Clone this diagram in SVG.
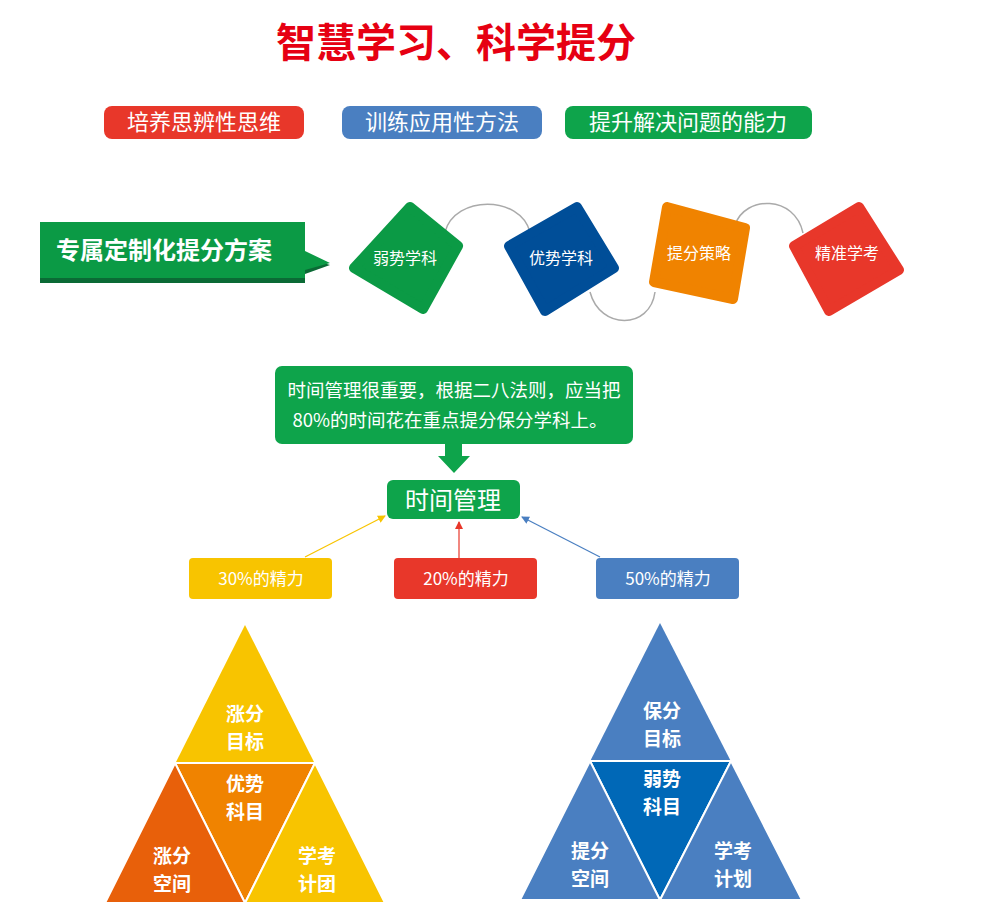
<svg xmlns="http://www.w3.org/2000/svg" width="992" height="918" viewBox="0 0 992 918">
<style>
text{font-family:"Noto Sans CJK SC","Noto Sans",sans-serif;fill:#fff;text-anchor:middle}
.b{font-weight:bold}
.q{stroke-linejoin:round;stroke-width:10}
</style>
<defs>
<marker id="ay" markerWidth="8" markerHeight="8" refX="7" refY="4" orient="auto" markerUnits="userSpaceOnUse"><path d="M0,0L8,4L0,8z" fill="#f8c400"/></marker>
<marker id="ar" markerWidth="8" markerHeight="8" refX="7" refY="4" orient="auto" markerUnits="userSpaceOnUse"><path d="M0,0L8,4L0,8z" fill="#e8372a"/></marker>
<marker id="ab" markerWidth="8" markerHeight="8" refX="7" refY="4" orient="auto" markerUnits="userSpaceOnUse"><path d="M0,0L8,4L0,8z" fill="#4a7fc1"/></marker>
</defs>
<rect width="992" height="918" fill="#fff"/>
<text x="456" y="57" class="b" font-size="40" style="fill:#e60012">智慧学习、科学提分</text>
<g id="tags">
<rect x="104" y="106" width="200" height="33" rx="8" fill="#e8372a"/><text x="204" y="130" font-size="22">培养思辨性思维</text>
<rect x="342" y="106" width="200" height="33" rx="8" fill="#4a7fc1"/><text x="442" y="130" font-size="22">训练应用性方法</text>
<rect x="565" y="106" width="247" height="33" rx="8" fill="#0ea44b"/><text x="688" y="130" font-size="22">提升解决问题的能力</text>
</g>
<g id="plan-label">
<path d="M40,228H305V257L330,265L305,274V283H40Z" fill="#0b6a35"/>
<path d="M40,222H305V251L330,263L305,270V278H40Z" fill="#0b9a45"/>
<text x="164" y="259" class="b" font-size="24">专属定制化提分方案</text>
</g>
<g id="arcs" fill="none" stroke="#aaa" stroke-width="1.5">
<path d="M445,232C455,195 520,195 530,232"/>
<path d="M590,292C600,330 650,330 655,292"/>
<path d="M735,225C745,195 795,195 803,233"/>
</g>
<g id="s1"><path class="q" d="M410,207L458,246L423,309L354,268Z" fill="#0b9a45" stroke="#0b9a45"/><text x="405" y="264" font-size="16">弱势学科</text></g>
<g id="s2"><path class="q" d="M577,207L614,268L545,311L509,246Z" fill="#004e98" stroke="#004e98"/><text x="561" y="264" font-size="16">优势学科</text></g>
<g id="s3"><path class="q" d="M667,207L745,228L733,299L654,282Z" fill="#f08300" stroke="#f08300"/><text x="699" y="259" font-size="16">提分策略</text></g>
<g id="s4"><path class="q" d="M859,207L899,270L829,311L794,246Z" fill="#e8372a" stroke="#e8372a"/><text x="847" y="259" font-size="16">精准学考</text></g>
<g id="note">
<rect x="275" y="366" width="358" height="78" rx="7" fill="#0ea44b"/>
<text x="454" y="397" font-size="18.5">时间管理很重要，根据二八法则，应当把</text>
<text x="450" y="427" font-size="18.5">80%的时间花在重点提分保分学科上。</text>
<path d="M445,444H462V456H470L454,473L438,456H445Z" fill="#0ea44b"/>
</g>
<g id="time"><rect x="387" y="480" width="133" height="39" rx="6" fill="#0ea44b"/><text x="453" y="509" font-size="24">时间管理</text></g>
<g id="connectors" stroke-width="1.2">
<line x1="305" y1="557" x2="385" y2="516" stroke="#f8c400" marker-end="url(#ay)"/>
<line x1="459" y1="558" x2="459" y2="522" stroke="#e8372a" marker-end="url(#ar)"/>
<line x1="600" y1="557" x2="522" y2="517" stroke="#4a7fc1" marker-end="url(#ab)"/>
</g>
<g id="p30"><rect x="189" y="558" width="143" height="41" rx="4" fill="#f8c400"/><text x="261" y="585" font-size="17">30%的精力</text></g>
<g id="p20"><rect x="394" y="558" width="143" height="41" rx="4" fill="#e8372a"/><text x="466" y="585" font-size="17">20%的精力</text></g>
<g id="p50"><rect x="596" y="558" width="143" height="41" rx="4" fill="#4a7fc1"/><text x="668" y="585" font-size="17">50%的精力</text></g>
<g id="left-pyramid" font-size="19">
<path d="M245,625L105,903H385Z" fill="#f8c400"/>
<path d="M175,763L315,763L245,903Z" fill="#f08300" stroke="#fff" stroke-width="2"/>
<path d="M175,763L105,903H245Z" fill="#e8600a" stroke="#fff" stroke-width="2"/>
<path d="M315,763L245,903H385Z" fill="#f8c400" stroke="#fff" stroke-width="2"/>
<text x="245" y="721" class="b">涨分</text><text x="245" y="749" class="b">目标</text>
<text x="245" y="791" class="b">优势</text><text x="245" y="819" class="b">科目</text>
<text x="172" y="863" class="b">涨分</text><text x="172" y="891" class="b">空间</text>
<text x="317" y="863" class="b">学考</text><text x="317" y="891" class="b">计团</text>
</g>
<g id="right-pyramid" font-size="19">
<path d="M660,623L520,900H802Z" fill="#4a7fc1"/>
<path d="M590,761L731,761L660,900Z" fill="#0068b7" stroke="#fff" stroke-width="2"/>
<path d="M590,761L520,900H660Z" fill="#4a7fc1" stroke="#fff" stroke-width="2"/>
<path d="M731,761L660,900H802Z" fill="#4a7fc1" stroke="#fff" stroke-width="2"/>
<text x="662" y="718" class="b">保分</text><text x="662" y="746" class="b">目标</text>
<text x="662" y="786" class="b">弱势</text><text x="662" y="814" class="b">科目</text>
<text x="590" y="858" class="b">提分</text><text x="590" y="886" class="b">空间</text>
<text x="733" y="858" class="b">学考</text><text x="733" y="886" class="b">计划</text>
</g>
</svg>
